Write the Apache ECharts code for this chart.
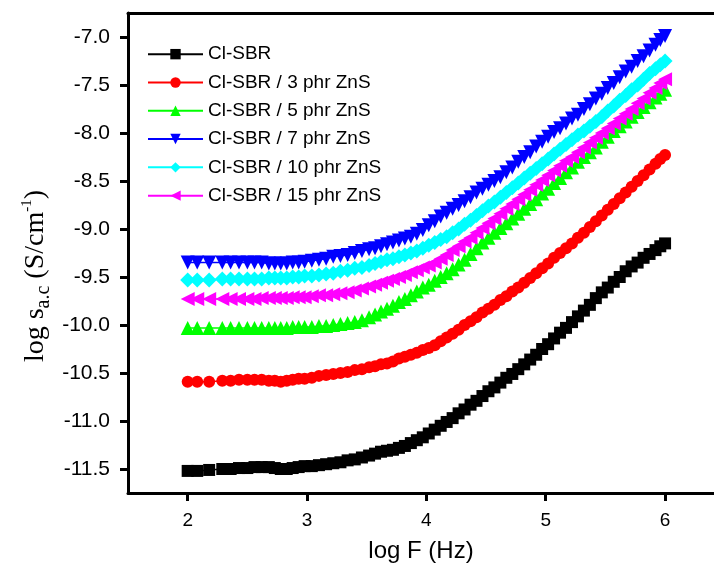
<!DOCTYPE html>
<html>
<head>
<meta charset="utf-8">
<script src="https://cdn.jsdelivr.net/npm/echarts@6/dist/echarts.min.js"></script>
<style>html,body{margin:0;padding:0;background:#fff;}#c{width:714px;height:568px;}</style>
</head>
<body>
<div id="c"></div>
<script>
var logF = [2.00,2.08,2.18,2.29,2.36,2.43,2.50,2.56,2.62,2.68,2.73,2.78,2.83,2.88,2.93,2.98,3.04,3.10,3.16,3.22,3.28,3.34,3.40,3.46,3.52,3.57,3.62,3.67,3.72,3.77,3.82,3.87,3.92,3.97,4.02,4.07,4.12,4.17,4.22,4.27,4.32,4.37,4.42,4.47,4.52,4.57,4.62,4.67,4.72,4.77,4.82,4.87,4.92,4.97,5.02,5.07,5.12,5.17,5.22,5.27,5.32,5.37,5.42,5.47,5.52,5.57,5.62,5.67,5.72,5.77,5.82,5.87,5.92,5.96,6.00];

var sbr0 = [-11.52,-11.52,-11.51,-11.50,-11.50,-11.49,-11.49,-11.48,-11.48,-11.48,-11.49,-11.50,-11.50,-11.49,-11.48,-11.47,-11.47,-11.46,-11.45,-11.44,-11.43,-11.41,-11.40,-11.38,-11.36,-11.34,-11.32,-11.31,-11.30,-11.28,-11.26,-11.23,-11.20,-11.17,-11.13,-11.09,-11.05,-11.01,-10.97,-10.92,-10.88,-10.83,-10.79,-10.74,-10.69,-10.65,-10.60,-10.55,-10.51,-10.46,-10.41,-10.36,-10.31,-10.25,-10.20,-10.14,-10.08,-10.03,-9.97,-9.91,-9.85,-9.79,-9.72,-9.66,-9.61,-9.55,-9.50,-9.44,-9.39,-9.35,-9.30,-9.26,-9.22,-9.18,-9.15];

var zns3 = [-10.59,-10.59,-10.59,-10.58,-10.58,-10.57,-10.57,-10.57,-10.57,-10.58,-10.58,-10.59,-10.58,-10.57,-10.56,-10.56,-10.55,-10.53,-10.52,-10.51,-10.50,-10.49,-10.47,-10.46,-10.44,-10.43,-10.41,-10.40,-10.38,-10.35,-10.33,-10.31,-10.29,-10.26,-10.24,-10.21,-10.17,-10.13,-10.09,-10.05,-10.00,-9.96,-9.92,-9.87,-9.83,-9.79,-9.74,-9.70,-9.65,-9.61,-9.56,-9.51,-9.46,-9.41,-9.36,-9.30,-9.25,-9.20,-9.15,-9.09,-9.04,-8.98,-8.92,-8.86,-8.80,-8.74,-8.68,-8.62,-8.56,-8.50,-8.44,-8.38,-8.32,-8.27,-8.23];

var zns5 = [-10.03,-10.03,-10.03,-10.03,-10.03,-10.03,-10.03,-10.03,-10.03,-10.03,-10.03,-10.03,-10.03,-10.02,-10.02,-10.02,-10.02,-10.01,-10.01,-10.00,-9.99,-9.98,-9.97,-9.95,-9.92,-9.89,-9.86,-9.83,-9.80,-9.76,-9.73,-9.69,-9.65,-9.61,-9.58,-9.54,-9.50,-9.46,-9.42,-9.37,-9.32,-9.26,-9.20,-9.14,-9.09,-9.04,-8.99,-8.94,-8.89,-8.84,-8.79,-8.74,-8.69,-8.63,-8.58,-8.52,-8.47,-8.41,-8.36,-8.30,-8.25,-8.20,-8.15,-8.09,-8.04,-7.98,-7.93,-7.88,-7.83,-7.78,-7.73,-7.68,-7.63,-7.59,-7.55];

var zns7 = [-9.35,-9.35,-9.35,-9.35,-9.35,-9.35,-9.35,-9.35,-9.35,-9.36,-9.36,-9.36,-9.36,-9.35,-9.35,-9.34,-9.33,-9.32,-9.31,-9.29,-9.28,-9.27,-9.25,-9.23,-9.21,-9.20,-9.18,-9.16,-9.14,-9.12,-9.10,-9.08,-9.05,-9.01,-8.96,-8.92,-8.87,-8.83,-8.79,-8.75,-8.71,-8.67,-8.62,-8.58,-8.54,-8.50,-8.46,-8.41,-8.36,-8.30,-8.25,-8.20,-8.14,-8.09,-8.04,-7.99,-7.95,-7.90,-7.85,-7.81,-7.75,-7.70,-7.64,-7.59,-7.53,-7.48,-7.42,-7.36,-7.31,-7.25,-7.20,-7.14,-7.08,-7.03,-6.99];

var zns10 = [-9.53,-9.53,-9.53,-9.52,-9.52,-9.52,-9.52,-9.52,-9.52,-9.51,-9.51,-9.51,-9.51,-9.50,-9.50,-9.49,-9.49,-9.48,-9.47,-9.46,-9.44,-9.43,-9.41,-9.40,-9.38,-9.36,-9.34,-9.32,-9.31,-9.29,-9.27,-9.25,-9.23,-9.20,-9.17,-9.14,-9.11,-9.08,-9.04,-9.00,-8.95,-8.91,-8.86,-8.81,-8.76,-8.72,-8.67,-8.62,-8.57,-8.52,-8.47,-8.42,-8.37,-8.32,-8.27,-8.22,-8.17,-8.12,-8.07,-8.02,-7.98,-7.93,-7.88,-7.83,-7.77,-7.72,-7.66,-7.61,-7.55,-7.50,-7.44,-7.38,-7.33,-7.29,-7.25];

var zns15 = [-9.73,-9.73,-9.73,-9.73,-9.73,-9.73,-9.73,-9.73,-9.72,-9.72,-9.72,-9.72,-9.72,-9.71,-9.71,-9.71,-9.70,-9.69,-9.69,-9.68,-9.67,-9.66,-9.64,-9.62,-9.60,-9.58,-9.56,-9.54,-9.52,-9.50,-9.48,-9.45,-9.43,-9.40,-9.38,-9.35,-9.31,-9.27,-9.22,-9.18,-9.13,-9.09,-9.04,-8.99,-8.94,-8.89,-8.84,-8.79,-8.74,-8.69,-8.64,-8.59,-8.54,-8.49,-8.44,-8.39,-8.34,-8.29,-8.25,-8.20,-8.15,-8.10,-8.05,-8.00,-7.95,-7.90,-7.85,-7.80,-7.75,-7.69,-7.64,-7.58,-7.53,-7.48,-7.44];

var seriesNames = ['Cl-SBR','Cl-SBR / 3 phr ZnS','Cl-SBR / 5 phr ZnS','Cl-SBR / 7 phr ZnS','Cl-SBR / 10 phr ZnS','Cl-SBR / 15 phr ZnS'];
var xTicks = [2,3,4,5,6];
var yTicks = [-11.5,-11.0,-10.5,-10.0,-9.5,-9.0,-8.5,-8.0,-7.5,-7.0];

var allY = [sbr0, zns3, zns5, zns7, zns10, zns15];
var colors = ['#000000','#ff0000','#00ff00','#0000ff','#00ffff','#ff00ff'];
var symbols = ['rect','circle','triangle','triangle','diamond','triangle'];
var rotates = [0,0,0,180,0,90];
var sizes = [12,12,14,14,15,14];

function pairs(ys){ return logF.map(function(x,i){ return [x, ys[i]]; }); }

var series = allY.map(function(ys, k){
  return {
    name: seriesNames[k], type: 'line', data: pairs(ys),
    symbol: symbols[k], symbolSize: sizes[k], symbolRotate: rotates[k],
    showAllSymbol: true, animation: false,
    lineStyle: {color: colors[k], width: 1.5},
    itemStyle: {color: colors[k]}
  };
});

var serif = 'Liberation Serif, Times New Roman, serif';
var chart = echarts.init(document.getElementById('c'));
chart.setOption({
  backgroundColor: '#ffffff',
  animation: false,
  color: colors,
  grid: {left: 128, right: 0, top: 13, bottom: 75},
  legend: {
    orient: 'vertical', left: 147, top: 44, padding: 0,
    itemWidth: 55, itemHeight: 13, itemGap: 8,
    textStyle: {fontFamily: 'Liberation Sans, Arial', fontSize: 19, color: '#000', lineHeight: 20.3},
    data: seriesNames
  },
  graphic: [{
    type: 'text', x: 36, y: 276, rotation: Math.PI / 2,
    style: {
      text: '{a|log s}{b|a.c}{a| (S/cm}{c|-1}{a|)}',
      align: 'center', verticalAlign: 'middle',
      fontFamily: serif, fontSize: 28, fill: '#000',
      rich: {
        a: {fontFamily: serif, fontSize: 28, fill: '#000', color: '#000'},
        b: {fontFamily: serif, fontSize: 20, fill: '#000', color: '#000', padding: [15,0,0,0]},
        c: {fontFamily: serif, fontSize: 15, fill: '#000', color: '#000', padding: [0,0,18,0]}
      }
    }
  }],
  xAxis: [{
    type: 'value', min: 1.5, max: 6.41, position: 'bottom',
    name: 'log F (Hz)', nameLocation: 'middle', nameGap: 46,
    nameTextStyle: {fontFamily: 'Liberation Sans, Arial', fontSize: 24, color: '#000'},
    axisLine: {show: true, lineStyle: {color: '#000', width: 3}},
    axisTick: {show: true, inside: false, length: 8, lineStyle: {color: '#000', width: 3}, customValues: xTicks},
    axisLabel: {fontFamily: 'Liberation Sans, Arial', fontSize: 19, color: '#000', margin: 18, customValues: xTicks},
    splitLine: {show: false}
  }, {
    type: 'value', min: 1.5, max: 6.41, position: 'top',
    axisLine: {show: true, lineStyle: {color: '#000', width: 3}},
    axisTick: {show: false}, axisLabel: {show: false}, splitLine: {show: false}
  }],
  yAxis: {
    type: 'value', min: -11.75, max: -6.75,
    axisLine: {show: true, lineStyle: {color: '#000', width: 3}},
    axisTick: {show: true, inside: false, length: 8, lineStyle: {color: '#000', width: 3}, customValues: yTicks},
    axisLabel: {fontFamily: 'Liberation Sans, Arial', fontSize: 21, color: '#000', margin: 18,
      customValues: yTicks, formatter: function(v){ return v.toFixed(1); }},
    splitLine: {show: false}
  },
  series: series
});
</script>
</body>
</html>
